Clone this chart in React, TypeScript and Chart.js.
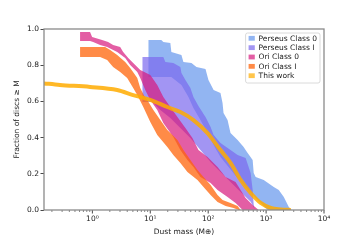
import { useEffect, useRef } from 'react';
import { Chart, registerables } from 'chart.js';
Chart.register(...registerables);

const FONT = "'DejaVu Sans', 'Noto Sans', sans-serif";

const seriesNames = ['Perseus Class 0', 'Perseus Class I', 'Ori Class 0', 'Ori Class I', 'This work'];
const seriesColors = [
  'rgba(100,149,237,0.7)',
  'rgba(123,104,238,0.7)',
  'rgba(215,25,125,0.7)',
  'rgba(255,100,10,0.75)',
  'rgba(255,172,0,0.85)',
];

const yTickValues = [0, 0.2, 0.4, 0.6, 0.8, 1.0];

// [dust mass, fraction]
const perseus0Upper: number[][] = [
  [9.23, 0.939], [15.5, 0.939], [16.8, 0.928], [22.2, 0.923], [23.1, 0.873], [34.5, 0.856],
  [37.3, 0.818], [51.4, 0.812], [62.7, 0.79], [89.8, 0.779], [101, 0.718], [124, 0.663],
  [163, 0.646], [177, 0.591], [184, 0.536], [216, 0.497], [243, 0.425], [322, 0.387],
  [409, 0.348], [480, 0.315], [586, 0.276], [611, 0.204], [661, 0.182], [910, 0.166],
  [1356, 0.127], [1656, 0.11], [2023, 0.072], [2467, 0.017], [2780, 0],
];
const perseus0Lower: number[][] = [
  [9.23, 0.735], [23.1, 0.735], [34.5, 0.691], [45.6, 0.624], [55.6, 0.564], [73.5, 0.497],
  [97.3, 0.425], [124, 0.359], [163, 0.293], [225, 0.238], [309, 0.182], [443, 0.127],
  [586, 0.083], [806, 0.039], [1065, 0], [2780, 0],
];
const perseus1Upper: number[][] = [
  [7.27, 0.845], [16.8, 0.845], [18.2, 0.818], [25.0, 0.812], [33.1, 0.79], [34.5, 0.757],
  [40.4, 0.718], [49.3, 0.674], [55.6, 0.624], [67.9, 0.575], [89.8, 0.514], [110, 0.459],
  [124, 0.414], [163, 0.37], [243, 0.331], [322, 0.304], [443, 0.287], [541, 0.204],
  [586, 0.11], [611, 0.028], [636, 0],
];
const perseus1Lower: number[][] = [
  [7.27, 0.597], [10.8, 0.597], [14.9, 0.552], [22.2, 0.508], [33.1, 0.453], [49.3, 0.398],
  [73.5, 0.331], [110, 0.265], [163, 0.21], [243, 0.155], [363, 0.099], [541, 0.045],
  [611, 0.015], [636, 0],
];
const ori0Upper: number[][] = [
  [0.612, 0.983], [0.912, 0.983], [0.989, 0.956], [1.47, 0.939], [1.87, 0.928], [2.28, 0.912],
  [3.02, 0.901], [3.4, 0.873], [4.16, 0.84], [5.07, 0.812], [6.71, 0.773], [10.0, 0.746],
  [13.2, 0.691], [16.8, 0.624], [22.2, 0.569], [29.4, 0.514], [40.4, 0.453], [53.4, 0.398],
  [67.9, 0.331], [97.3, 0.293], [145, 0.238], [200, 0.182], [297, 0.155], [363, 0.11],
  [443, 0.066], [586, 0.028], [745, 0],
];
const ori0Lower: number[][] = [
  [0.612, 0.934], [0.912, 0.934], [1.03, 0.928], [1.36, 0.912], [1.8, 0.901], [2.68, 0.873],
  [3.69, 0.84], [4.5, 0.801], [5.96, 0.762], [6.71, 0.729], [8.19, 0.663], [10.0, 0.608],
  [13.2, 0.552], [16.8, 0.481], [25.0, 0.403], [33.1, 0.331], [43.8, 0.276], [55.6, 0.238],
  [73.5, 0.182], [110, 0.149], [145, 0.11], [216, 0.072], [297, 0.039], [363, 0.011],
  [393, 0], [745, 0],
];
const ori1Upper: number[][] = [
  [0.612, 0.901], [1.66, 0.901], [2.03, 0.884], [2.68, 0.856], [3.69, 0.818], [4.5, 0.785],
  [5.96, 0.729], [6.71, 0.674], [7.87, 0.63], [8.87, 0.608], [11.3, 0.552], [14.9, 0.497],
  [19.7, 0.442], [29.4, 0.387], [37.3, 0.331], [49.3, 0.276], [65.3, 0.221], [83.0, 0.182],
  [110, 0.138], [145, 0.083], [177, 0.055], [243, 0.039], [322, 0.022], [363, 0],
];
const ori1Lower: number[][] = [
  [0.612, 0.845], [1.36, 0.845], [1.8, 0.829], [2.28, 0.79], [3.02, 0.762], [3.99, 0.729],
  [5.07, 0.674], [5.96, 0.635], [7.57, 0.569], [10.0, 0.486], [13.2, 0.414], [19.7, 0.348],
  [25.0, 0.304], [33.1, 0.26], [43.8, 0.21], [65.3, 0.166], [83.0, 0.127], [110, 0.083],
  [145, 0.044], [200, 0.022], [274, 0.011], [335, 0], [363, 0],
];
const thisWork: number[][] = [
  [0.14, 0.7], [0.275, 0.691], [0.912, 0.68], [2.68, 0.663], [5.07, 0.635], [10.0, 0.608],
  [19.7, 0.569], [33.1, 0.541], [55.6, 0.497], [97.3, 0.425], [163, 0.331], [243, 0.26],
  [363, 0.166], [541, 0.094], [806, 0.039], [1205, 0.011], [1791, 0.003], [2668, 0],
];

const bands = [
  [perseus0Upper, perseus0Lower],
  [perseus1Upper, perseus1Lower],
  [ori0Upper, ori0Lower],
  [ori1Upper, ori1Lower],
];

const toPts = (a: number[][]) => a.map(([x, y]) => ({ x, y }));
const SUP: Record<string, string> = { '0': '⁰', '1': '¹', '2': '²', '3': '³', '4': '⁴', '-': '⁻' };
const isPow10 = (v: number) => {
  const l = Math.log10(v);
  return Math.abs(l - Math.round(l)) < 1e-9;
};
const isNice = (v: number) => {
  const p = Math.pow(10, Math.floor(Math.log10(v) + 1e-9));
  const s = v / p;
  return Math.abs(s - Math.round(s)) < 1e-6;
};

const framePlugin = {
  id: 'frameAndTicks',
  afterDatasetsDraw(chart: any) {
    const { ctx, chartArea: a } = chart;
    const xs = chart.scales.x;
    ctx.save();
    ctx.strokeStyle = '#333';
    for (const t of xs.ticks) {
      if (!isNice(t.value)) continue;
      const major = isPow10(t.value);
      const px = xs.getPixelForValue(t.value);
      ctx.lineWidth = major ? 0.9 : 0.6;
      ctx.beginPath();
      ctx.moveTo(px, a.bottom);
      ctx.lineTo(px, a.bottom + (major ? 3.5 : 2));
      ctx.stroke();
    }
    ctx.strokeStyle = '#8a8a8a';
    ctx.lineWidth = 1.3;
    ctx.strokeRect(a.left, a.top, a.right - a.left, a.bottom - a.top);
    ctx.restore();
  },
};

const legendPlugin = {
  id: 'boxLegend',
  afterDraw(chart: any) {
    const { ctx, chartArea: a } = chart;
    ctx.save();
    ctx.font = `7.5px ${FONT}`;
    const textW = Math.max(...seriesNames.map((n) => ctx.measureText(n).width));
    const rowH = 9.35;
    const w = 13 + textW + 3;
    const h = 50;
    const left = a.right - 4 - w;
    const top = a.top + 4;
    ctx.beginPath();
    ctx.roundRect(left, top, w, h, 2);
    ctx.fillStyle = 'rgba(255,255,255,0.85)';
    ctx.fill();
    ctx.strokeStyle = '#d0d0d0';
    ctx.lineWidth = 0.8;
    ctx.stroke();
    ctx.textBaseline = 'middle';
    ctx.textAlign = 'left';
    seriesNames.forEach((n, i) => {
      const cy = top + 5.3 + i * rowH;
      ctx.fillStyle = i === 4 ? 'rgba(255,172,0,0.7)' : seriesColors[i];
      ctx.fillRect(left + 3, cy - 2.4, 6.2, 4.8);
      ctx.fillStyle = '#222';
      ctx.fillText(n, left + 13, cy + 0.3);
    });
    ctx.restore();
  },
};

export default function App() {
  const ref = useRef<HTMLCanvasElement>(null);
  useEffect(() => {
    if (!ref.current) return;
    const datasets: any[] = [];
    bands.forEach(([up, lo], i) => {
      datasets.push({
        label: seriesNames[i],
        data: toPts(up),
        borderWidth: 0,
        borderColor: 'rgba(0,0,0,0)',
        backgroundColor: seriesColors[i],
        pointRadius: 0,
        fill: '+1',
        order: 50 - i * 10,
      });
      datasets.push({
        label: seriesNames[i] + ' lower',
        data: toPts(lo),
        borderWidth: 0,
        borderColor: 'rgba(0,0,0,0)',
        backgroundColor: 'rgba(0,0,0,0)',
        pointRadius: 0,
        fill: false,
        order: 50 - i * 10,
      });
    });
    datasets.push({
      label: seriesNames[4],
      data: toPts(thisWork),
      borderWidth: 4,
      borderColor: seriesColors[4],
      pointRadius: 0,
      fill: false,
      cubicInterpolationMode: 'monotone',
      order: 1,
    });
    const font = { family: FONT, size: 7.5 };
    const chart = new Chart(ref.current, {
      type: 'line',
      data: { datasets },
      plugins: [framePlugin, legendPlugin],
      options: {
        animation: false,
        responsive: true,
        maintainAspectRatio: false,
        parsing: false as any,
        layout: { padding: { left: 4, top: 29, right: 36, bottom: 0 } },
        plugins: { legend: { display: false }, tooltip: { enabled: false } },
        scales: {
          x: {
            type: 'logarithmic',
            min: 0.146,
            max: 10000,
            grid: { display: false, drawTicks: false },
            border: { display: false },
            ticks: {
              autoSkip: false,
              maxRotation: 0,
              padding: 5,
              font,
              color: '#222',
              callback: (v: any) => {
                const n = Number(v);
                if (!isPow10(n)) return '';
                const p = String(Math.round(Math.log10(n)));
                return '10' + p.split('').map((c) => SUP[c]).join('');
              },
            },
            title: {
              display: true,
              text: 'Dust mass (M⊕)',
              font,
              color: '#222',
              padding: { top: 0, bottom: 3.5 },
            },
            afterFit: (s: any) => {
              s.height = 30;
            },
          },
          y: {
            type: 'linear',
            min: 0,
            max: 1,
            grid: { display: true, drawOnChartArea: false, drawTicks: true, tickLength: 3.5, tickColor: '#333', tickWidth: 0.9 },
            border: { display: false },
            afterBuildTicks: (s: any) => {
              s.ticks = yTickValues.map((value) => ({ value }));
            },
            ticks: {
              padding: 1.5,
              font,
              color: '#222',
              callback: (v: any) => Number(v).toFixed(1),
            },
            title: {
              display: true,
              text: 'Fraction of discs ≥ M',
              font,
              color: '#222',
              padding: { top: 8.5, bottom: 0 },
            },
            afterFit: (s: any) => {
              s.width = 40;
            },
          },
        },
      },
    });
    return () => chart.destroy();
  }, []);
  return (
    <div style={{ position: 'absolute', left: 0, top: 0, width: 360, height: 240 }}>
      <canvas ref={ref} />
    </div>
  );
}
